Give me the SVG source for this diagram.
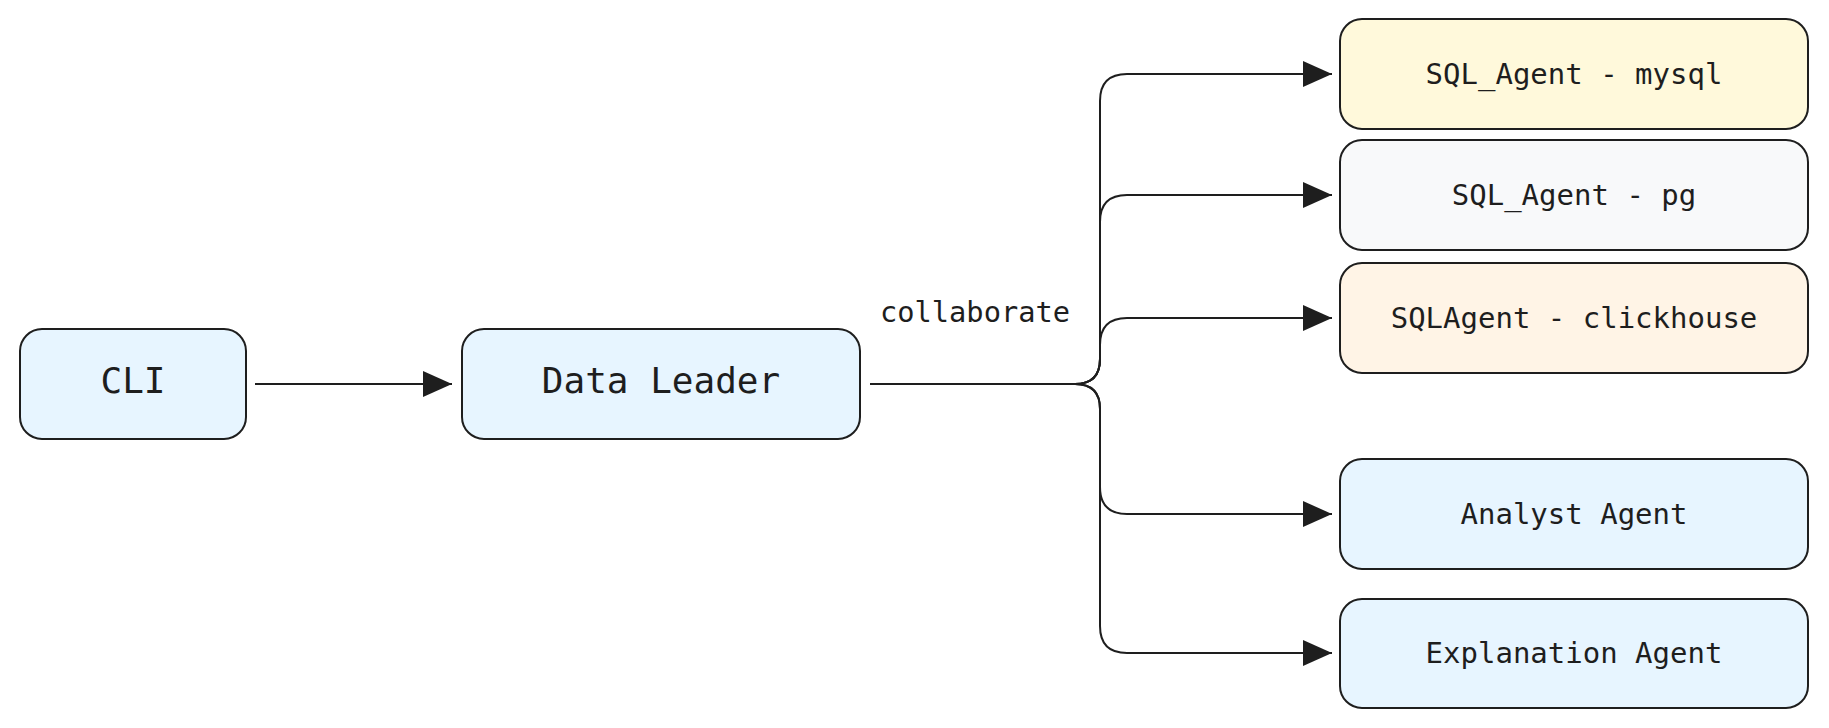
<svg xmlns="http://www.w3.org/2000/svg" width="1829" height="728" viewBox="0 0 1829 728">
<style>
.box{stroke:#1e1e1e;stroke-width:2}
.blue{fill:#e7f5ff}
.yellow{fill:#fff9db}
.gray{fill:#f8f9fa}
.orange{fill:#fff4e6}
.lbl{font-family:"DejaVu Sans Mono","Liberation Mono",monospace;fill:#1e1e1e;text-anchor:middle}
.big{font-size:36px}
.med{font-size:29px}
.conn{fill:none;stroke:#1e1e1e;stroke-width:2;marker-end:url(#ah)}
</style>
<defs>
<marker id="ah" markerUnits="userSpaceOnUse" markerWidth="30" markerHeight="28" refX="29" refY="13" orient="auto" viewBox="0 0 30 26">
<path d="M0,0 L29,13 L0,26 Z" fill="#1e1e1e"/>
</marker>
</defs>
<rect width="1829" height="728" fill="#ffffff"/>
<g id="connectors">
<path class="conn" d="M255 384 L452 384"/>
<path class="conn" d="M870 384 L1075 384 Q1100 384 1100 359 L1100 101 Q1100 74 1127 74 L1332 74"/>
<path class="conn" d="M870 384 L1075 384 Q1100 384 1100 359 L1100 222 Q1100 195 1127 195 L1332 195"/>
<path class="conn" d="M870 384 L1075 384 Q1100 384 1100 359 L1100 345 Q1100 318 1127 318 L1332 318"/>
<path class="conn" d="M870 384 L1075 384 Q1100 384 1100 409 L1100 487 Q1100 514 1127 514 L1332 514"/>
<path class="conn" d="M870 384 L1075 384 Q1100 384 1100 409 L1100 626 Q1100 653 1127 653 L1332 653"/>
<text class="lbl med" x="975" y="322" style="font-size:28.7px">collaborate</text>
</g>
<g id="cli">
<rect class="box blue" x="20" y="329" width="226" height="110" rx="22"/>
<text class="lbl big" x="133" y="393">CLI</text>
</g>
<g id="data-leader">
<rect class="box blue" x="462" y="329" width="398" height="110" rx="22"/>
<text class="lbl big" x="661" y="393">Data Leader</text>
</g>
<g id="sql-mysql">
<rect class="box yellow" x="1340" y="19" width="468" height="110" rx="22"/>
<text class="lbl med" x="1574" y="84">SQL_Agent - mysql</text>
</g>
<g id="sql-pg">
<rect class="box gray" x="1340" y="140" width="468" height="110" rx="22"/>
<text class="lbl med" x="1574" y="205">SQL_Agent - pg</text>
</g>
<g id="sql-clickhouse">
<rect class="box orange" x="1340" y="263" width="468" height="110" rx="22"/>
<text class="lbl med" x="1574" y="328">SQLAgent - clickhouse</text>
</g>
<g id="analyst">
<rect class="box blue" x="1340" y="459" width="468" height="110" rx="22"/>
<text class="lbl med" x="1574" y="524">Analyst Agent</text>
</g>
<g id="explanation">
<rect class="box blue" x="1340" y="599" width="468" height="109" rx="22"/>
<text class="lbl med" x="1574" y="663">Explanation Agent</text>
</g>
</svg>
